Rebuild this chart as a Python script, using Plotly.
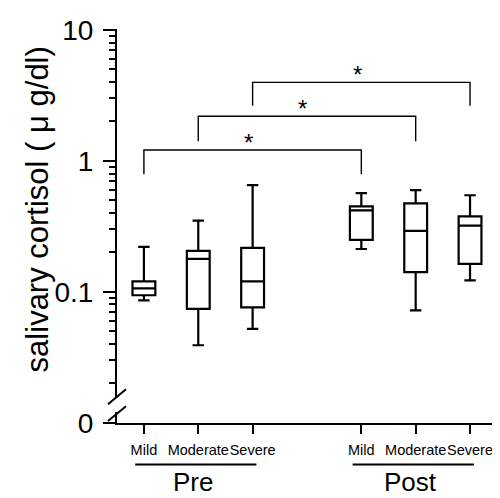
import math
import plotly.graph_objects as go

# ---------------- data ----------------
categories = ["Mild", "Moderate", "Severe"]
phases = ["Pre", "Post"]

# box statistics (µg/dl), order: Pre Mild, Pre Moderate, Pre Severe, Post Mild, Post Moderate, Post Severe
lower_whisker = [0.086, 0.039, 0.052, 0.212, 0.072, 0.122]
q1_values = [0.094, 0.074, 0.076, 0.249, 0.141, 0.163]
median_values = [0.106, 0.178, 0.120, 0.418, 0.292, 0.320]
q3_values = [0.120, 0.205, 0.216, 0.449, 0.473, 0.376]
upper_whisker = [0.220, 0.350, 0.652, 0.566, 0.597, 0.546]

# significance brackets (Pre vs Post, same severity)
bracket_top = [1.21, 2.19, 3.98]
bracket_foot = [0.79, 1.41, 2.64]
bracket_mark = ["*", "*", "*"]

y_tick_values = [0.1, 1, 10]
y_tick_labels = ["0.1", "1", "10"]
zero_label = "0"
y_title = "salivary cortisol ( \u03bc g/dl)"

# ---------------- geometry ----------------
OFF = 8  # page body margin of the browser
W, H = 500 - OFF, 498 - OFF
ML, MR, MT, MB = 117 - OFF, 7, 25 - OFF, 75
PW, PH = W - ML - MR, H - MT - MB
Y_RANGE = [-2.003, 1.0075]
X_RANGE = [-0.495, 6.404]

def px_x(px):
    return (px - OFF - ML) / PW

def px_y(py):
    return (H - MB - (py - OFF)) / PH

n_cat = len(categories)
positions = [g * (n_cat + 1) + i for g in range(len(phases)) for i in range(n_cat)]
tick_text = [c for _ in phases for c in categories]

FONT = "Liberation Sans, Arial, Helvetica, sans-serif"

fig = go.Figure()

fig.add_trace(go.Box(
    x=positions,
    q1=q1_values, median=median_values, q3=q3_values,
    lowerfence=lower_whisker, upperfence=upper_whisker,
    width=0.42, whiskerwidth=0.5,
    line=dict(color="black", width=2.2),
    fillcolor="white",
    boxpoints=False, showlegend=False, hoverinfo="skip",
))

annotations = []
for k in range(n_cat):
    xl, xr = positions[k], positions[k + n_cat]
    fig.add_trace(go.Scatter(
        x=[xl, xl, xr, xr],
        y=[bracket_foot[k], bracket_top[k], bracket_top[k], bracket_foot[k]],
        mode="lines", line=dict(color="black", width=1.4),
        showlegend=False, hoverinfo="skip",
    ))
    annotations.append(dict(
        x=(xl + xr) / 2, y=math.log10(bracket_top[k]), xref="x", yref="y",
        text=bracket_mark[k], showarrow=False, yanchor="bottom",
        xshift=-4, yshift=-8, font=dict(size=24, family=FONT, color="black"),
    ))

shapes = []
for g, ph in enumerate(phases):
    grp = positions[g * n_cat:(g + 1) * n_cat]
    annotations.append(dict(
        x=sum(grp) / len(grp), y=px_y(483), xref="x", yref="paper",
        text=ph, showarrow=False, yanchor="middle", xshift=-5,
        font=dict(size=26, family=FONT, color="black"),
    ))
    shapes.append(dict(type="line", xref="x", yref="paper",
                       x0=min(grp) - 0.16, x1=max(grp) + 0.07,
                       y0=px_y(465), y1=px_y(465),
                       line=dict(color="black", width=2)))

# axis title
annotations.append(dict(
    x=px_x(37), y=px_y(207), xref="paper", yref="paper", text=y_title,
    textangle=-90, showarrow=False, xanchor="center", yanchor="middle",
    font=dict(size=31, family=FONT, color="black"),
))

# axis break
shapes.append(dict(type="rect", xref="paper", yref="paper",
                   x0=px_x(113), x1=px_x(121), y0=px_y(412), y1=px_y(397),
                   fillcolor="white", line=dict(width=0), layer="above"))
for (xa, ya, xb, yb) in [(108, 404, 126, 389), (108, 421, 126, 406)]:
    shapes.append(dict(type="line", xref="paper", yref="paper",
                       x0=px_x(xa), y0=px_y(ya), x1=px_x(xb), y1=px_y(yb),
                       line=dict(color="black", width=2), layer="above"))

minor_vals = [m * 10 ** e for e in (-2, -1, 0) for m in range(2, 10)]

fig.update_layout(
    width=W, height=H,
    margin=dict(l=ML, r=MR, t=MT, b=MB),
    plot_bgcolor="white", paper_bgcolor="white",
    font=dict(family=FONT, color="black"),
    showlegend=False,
    annotations=annotations,
    shapes=shapes,
    xaxis=dict(
        range=X_RANGE, tickmode="array", tickvals=positions, ticktext=tick_text,
        tickangle=0, ticks="outside", ticklen=9, tickwidth=1.5, tickcolor="black",
        showline=True, linewidth=2, linecolor="black",
        showgrid=False, zeroline=False,
        tickfont=dict(size=14.5, family=FONT, color="black"),
        ticklabelstandoff=4,
    ),
    yaxis=dict(
        type="log", range=Y_RANGE, tickmode="array",
        tickvals=[10 ** Y_RANGE[0]] + y_tick_values,
        ticktext=[zero_label] + y_tick_labels,
        ticks="outside", ticklen=12, tickwidth=2, tickcolor="black",
        showline=True, linewidth=2, linecolor="black",
        showgrid=False, zeroline=False,
        tickfont=dict(size=28, family=FONT, color="black"),
        ticklabelstandoff=4,
        minor=dict(tickmode="array", tickvals=minor_vals, ticks="outside",
                   ticklen=6, tickwidth=1.5, tickcolor="black", showgrid=False),
    ),
)

fig.write_html("out.html")
